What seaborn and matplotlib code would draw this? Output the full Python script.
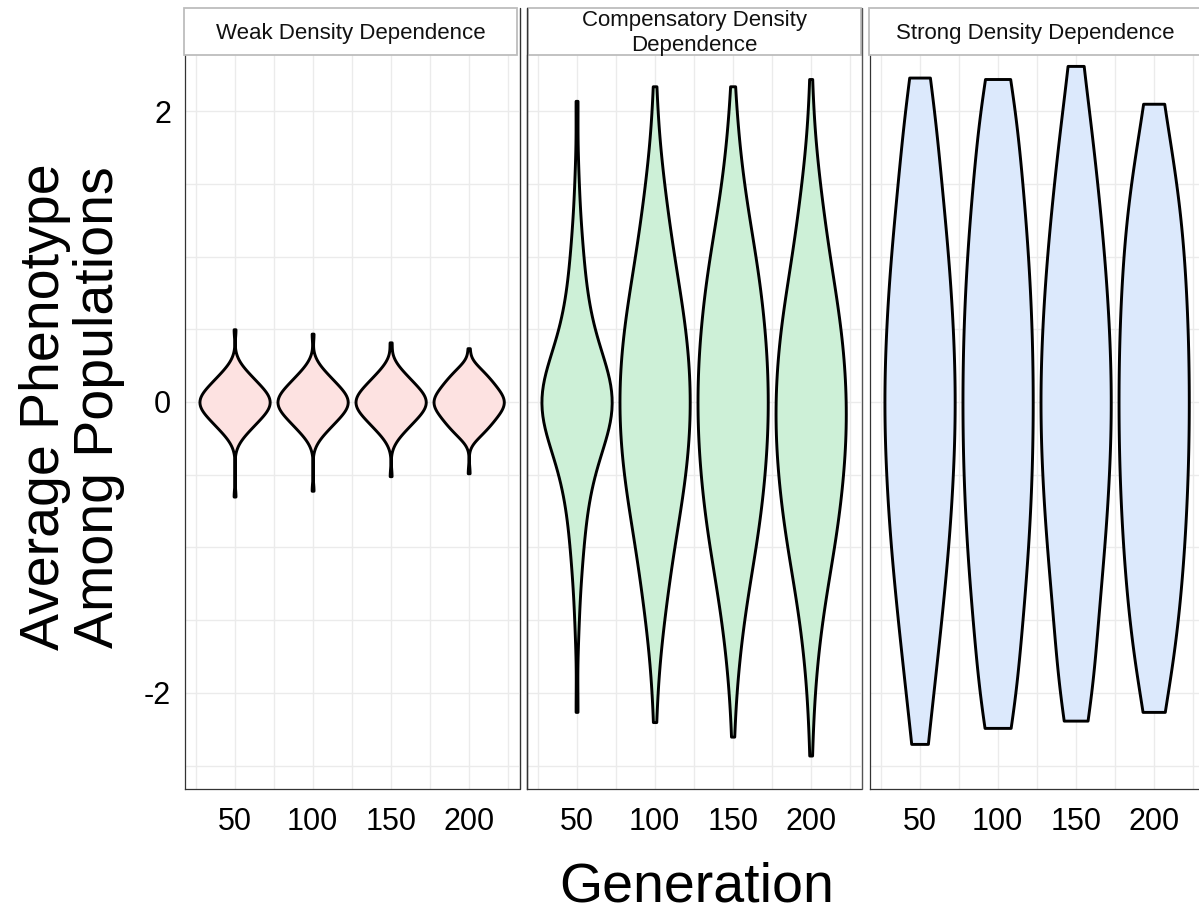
import numpy as np
import pandas as pd
import matplotlib
matplotlib.use("Agg")
import matplotlib.pyplot as plt
from matplotlib.lines import Line2D
from matplotlib.patches import Rectangle
import seaborn as sns

# ---------------------------------------------------------------------------
# Data: average phenotype among populations, stored as frequency tables
# (phenotype value -> number of populations) for each scenario and generation.
# ---------------------------------------------------------------------------
GENERATIONS = ["50", "100", "150", "200"]
SCENARIOS = ["Weak Density Dependence",
             "Compensatory Density\nDependence",
             "Strong Density Dependence"]

# Weak density dependence
WEAK_50_VALUES = [-0.65, -0.3, -0.25, -0.2, -0.15, -0.1, -0.05, 0.0,
                  0.05, 0.1, 0.15, 0.2, 0.25, 0.3, 0.5]
WEAK_50_COUNTS = [1, 1, 3, 6, 9, 12, 15, 16, 15, 12, 9, 6, 3, 1, 1]
WEAK_100_VALUES = [-0.61, -0.3, -0.25, -0.2, -0.15, -0.1, -0.05, 0.0,
                   0.05, 0.1, 0.15, 0.2, 0.25, 0.3, 0.47]
WEAK_100_COUNTS = [1, 1, 3, 6, 9, 12, 15, 16, 15, 12, 9, 6, 3, 1, 1]
WEAK_150_VALUES = [-0.51, -0.3, -0.25, -0.2, -0.15, -0.1, -0.05, 0.0,
                   0.05, 0.1, 0.15, 0.2, 0.25, 0.3, 0.41]
WEAK_150_COUNTS = [1, 1, 3, 6, 9, 12, 15, 16, 15, 12, 9, 6, 3, 1, 1]
WEAK_200_VALUES = [-0.49, -0.25, -0.2, -0.15, -0.1, -0.05, 0.0,
                   0.05, 0.1, 0.15, 0.2, 0.25, 0.37]
WEAK_200_COUNTS = [1, 4, 7, 10, 12, 15, 16, 15, 12, 10, 7, 4, 1]

# Compensatory density dependence
COMP_50_VALUES = [-2.13, -1.6, -1.4, -1.2, -1.0, -0.8, -0.6, -0.4, -0.2, 0.0,
                  0.2, 0.4, 0.6, 0.8, 1.0, 1.2, 1.4, 1.6, 2.07]
COMP_50_COUNTS = [1, 1, 1, 2, 3, 4, 6, 9, 15, 18, 15, 9, 6, 4, 3, 2, 1, 1, 1]
COMP_100_VALUES = [-2.2, -2.0, -1.8, -1.6, -1.4, -1.2, -1.0, -0.8, -0.6, -0.4,
                   -0.2, 0.0, 0.2, 0.4, 0.6, 0.8, 1.0, 1.2, 1.4, 1.6, 1.8,
                   2.0, 2.17]
COMP_100_COUNTS = [1, 1, 2, 4, 6, 8, 10, 13, 16, 18, 19, 20, 19, 18, 16, 13,
                   10, 8, 6, 4, 2, 1, 1]
COMP_150_VALUES = [-2.3, -2.0, -1.8, -1.6, -1.4, -1.2, -1.0, -0.8, -0.6, -0.4,
                   -0.2, 0.0, 0.2, 0.4, 0.6, 0.8, 1.0, 1.2, 1.4, 1.6, 1.8,
                   2.0, 2.17]
COMP_150_COUNTS = [1, 2, 3, 5, 7, 10, 13, 16, 17, 19, 20, 20, 20, 19, 17, 16,
                   13, 10, 7, 5, 3, 2, 1]
COMP_200_VALUES = [-2.43, -2.2, -2.0, -1.8, -1.6, -1.4, -1.2, -1.0, -0.8,
                   -0.6, -0.4, -0.2, 0.0, 0.2, 0.4, 0.6, 0.8, 1.0, 1.2, 1.4,
                   1.6, 1.8, 2.0, 2.22]
COMP_200_COUNTS = [1, 1, 2, 3, 5, 7, 10, 13, 16, 17, 19, 20, 20, 19, 18, 16,
                   13, 10, 8, 6, 4, 2, 1, 1]

# Strong density dependence
STRONG_50_VALUES = [-2.35, -2.0, -1.75, -1.5, -1.25, -1.0, -0.75, -0.5, -0.25,
                    0.0, 0.25, 0.5, 0.75, 1.0, 1.25, 1.5, 1.75, 2.0, 2.23]
STRONG_50_COUNTS = [4, 4, 5, 6, 7, 8, 9, 9, 10, 10, 10, 9, 9, 8, 7, 6, 5, 4, 4]
STRONG_100_VALUES = [-2.24, -2.0, -1.75, -1.5, -1.25, -1.0, -0.75, -0.5, -0.25,
                     0.0, 0.25, 0.5, 0.75, 1.0, 1.25, 1.5, 1.75, 2.0, 2.22]
STRONG_100_COUNTS = [6, 5, 6, 7, 8, 9, 9, 10, 10, 10, 10, 10, 9, 9, 8, 7, 6, 5, 5]
STRONG_150_VALUES = [-2.19, -2.0, -1.75, -1.5, -1.25, -1.0, -0.75, -0.5, -0.25,
                     0.0, 0.25, 0.5, 0.75, 1.0, 1.25, 1.5, 1.75, 2.0, 2.31]
STRONG_150_COUNTS = [4, 5, 5, 6, 7, 8, 9, 9, 10, 10, 10, 9, 9, 8, 7, 6, 5, 4, 3]
STRONG_200_VALUES = [-2.13, -2.0, -1.75, -1.5, -1.25, -1.0, -0.75, -0.5, -0.25,
                     0.0, 0.25, 0.5, 0.75, 1.0, 1.25, 1.5, 1.75, 2.05]
STRONG_200_COUNTS = [2, 4, 6, 7, 8, 9, 9, 10, 10, 10, 10, 10, 9, 9, 8, 7, 5, 4]

SCENARIO_TABLES = [
    [(WEAK_50_VALUES, WEAK_50_COUNTS), (WEAK_100_VALUES, WEAK_100_COUNTS),
     (WEAK_150_VALUES, WEAK_150_COUNTS), (WEAK_200_VALUES, WEAK_200_COUNTS)],
    [(COMP_50_VALUES, COMP_50_COUNTS), (COMP_100_VALUES, COMP_100_COUNTS),
     (COMP_150_VALUES, COMP_150_COUNTS), (COMP_200_VALUES, COMP_200_COUNTS)],
    [(STRONG_50_VALUES, STRONG_50_COUNTS), (STRONG_100_VALUES, STRONG_100_COUNTS),
     (STRONG_150_VALUES, STRONG_150_COUNTS), (STRONG_200_VALUES, STRONG_200_COUNTS)],
]

# kernel bandwidth (phenotype units) used for each violin
BANDWIDTHS = [[0.05, 0.05, 0.05, 0.05],
              [0.2, 0.3, 0.3, 0.3],
              [0.4, 0.4, 0.4, 0.4]]

FILLS = ["#FDE2E1", "#CDF0D7", "#DCE9FC"]

# Long-form table: one row per population
rows = []
for scenario, tables in zip(SCENARIOS, SCENARIO_TABLES):
    for gen, (values, counts) in zip(GENERATIONS, tables):
        for v, c in zip(values, counts):
            rows.extend([(scenario, gen, v)] * c)
df = pd.DataFrame(rows, columns=["Scenario", "Generation", "Phenotype"])

# ---------------------------------------------------------------------------
sns.set_theme(style="white")
plt.rcParams["font.family"] = ["Liberation Sans", "DejaVu Sans"]
plt.rcParams["text.color"] = "black"

W, H = 1199, 915
fig = plt.figure(figsize=(W / 100, H / 100), dpi=100)


def fx(px):
    return px / W


def fy(py):
    return 1 - py / H


def fixed_bandwidth(h):
    # gaussian_kde multiplies the returned factor by the sample std
    return lambda kde: h / kde.dataset.std(ddof=1)


PANEL_LEFT = [185, 527, 870]
PANEL_WIDTH = 334
PANEL_TOP, PANEL_BOTTOM = 55, 789
STRIP_TOP = 8
GRID = "#EBEBEB"
AXIS = "#333333"

axes = []
for i, scenario in enumerate(SCENARIOS):
    ax = fig.add_axes([fx(PANEL_LEFT[i]), fy(PANEL_BOTTOM),
                       fx(PANEL_WIDTH), (PANEL_BOTTOM - PANEL_TOP) / H])
    axes.append(ax)
    sub = df[df["Scenario"] == scenario]
    for j, gen in enumerate(GENERATIONS):
        part = sub[sub["Generation"] == gen]
        sns.violinplot(data=part, x="Generation", y="Phenotype",
                       order=GENERATIONS, ax=ax, color=FILLS[i], saturation=1,
                       linecolor="black", linewidth=2.1, inner=None, cut=0,
                       density_norm="width", width=0.9,
                       bw_method=fixed_bandwidth(BANDWIDTHS[i][j]))

    ax.set_xlim(-0.635, 3.645)
    ax.set_ylim(-2.66, 2.385)
    ax.set_xticks(range(len(GENERATIONS)))
    ax.set_xticklabels(GENERATIONS)
    ax.set_xticks([-0.5, 0.5, 1.5, 2.5, 3.5], minor=True)
    ax.set_yticks([-2, -1, 0, 1, 2])
    ax.set_yticks([-2.5, -1.5, -0.5, 0.5, 1.5], minor=True)
    ax.grid(which="both", color=GRID, linewidth=1.0)
    ax.set_axisbelow(True)
    ax.set_xlabel("")
    ax.set_ylabel("")
    for side in ("top", "right"):
        ax.spines[side].set_visible(False)
    for side in ("left", "bottom"):
        ax.spines[side].set_color(AXIS)
        ax.spines[side].set_linewidth(0.9)
    ax.tick_params(which="minor", length=0)
    ax.tick_params(axis="x", which="major", length=4, width=0.9, color=AXIS,
                   labelsize=22, labelcolor="black", pad=9)
    if i == 0:
        ax.set_yticklabels(["-2", "", "0", "", "2"])
        ax.tick_params(axis="y", which="major", length=4, width=0.9,
                       color=AXIS, labelsize=22, labelcolor="black", pad=6)
    else:
        ax.tick_params(axis="y", which="major", length=0, labelleft=False)

    # facet strip
    strip_left = PANEL_LEFT[i] - 1 if i != 1 else PANEL_LEFT[i] + 1
    fig.add_artist(Rectangle((fx(strip_left), fy(PANEL_TOP)),
                             fx(PANEL_WIDTH - 1), (PANEL_TOP - STRIP_TOP) / H,
                             transform=fig.transFigure, facecolor="white",
                             edgecolor="#BDBDBD", linewidth=1.3))
    fig.text(fx(strip_left + (PANEL_WIDTH - 1) / 2),
             fy((STRIP_TOP + PANEL_TOP) / 2 + 1.5),
             scenario, ha="center", va="center", fontsize=16,
             color="#111111", linespacing=1.3)

# panel separators
for x, col, top in [(519.5, AXIS, STRIP_TOP), (526.5, AXIS, STRIP_TOP),
                    (862.0, "#555555", STRIP_TOP)]:
    fig.add_artist(Line2D([fx(x), fx(x)], [fy(top), fy(PANEL_BOTTOM)],
                          transform=fig.transFigure, color=col, linewidth=1.0))

fig.text(fx(72), fy(407), "Average Phenotype\nAmong Populations",
         rotation=90, ha="center", va="center", fontsize=40, linespacing=1.05,
         color="black")
fig.text(fx(697), fy(887), "Generation", ha="center", va="center",
         fontsize=40, color="black")

fig.savefig("out.png", dpi=100, facecolor="white")
